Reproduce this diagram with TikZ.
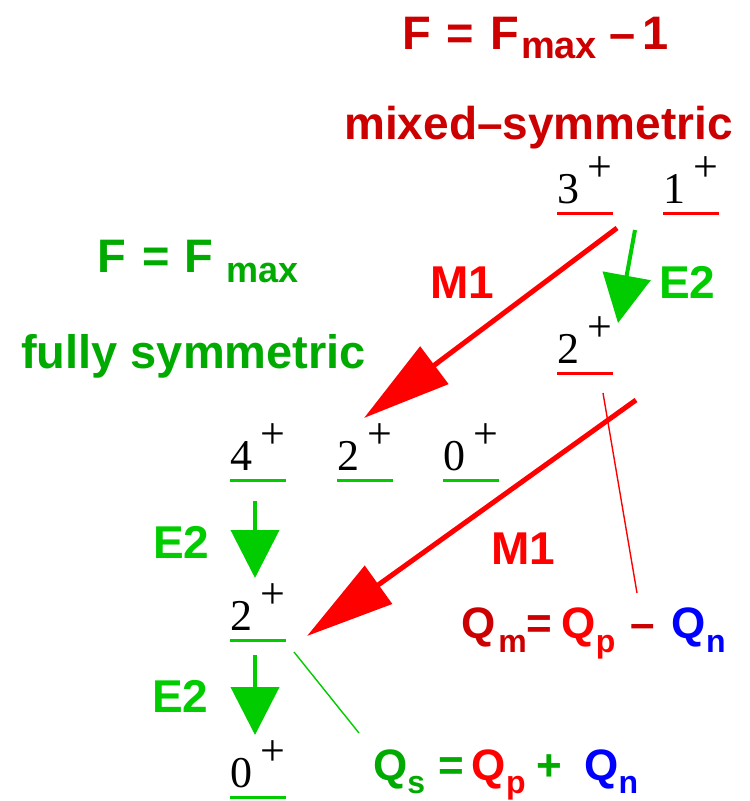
\documentclass[tikz,border=0pt]{standalone}
\usepackage{fontspec}
\setmainfont{Liberation Serif}
\newfontfamily\hv{Liberation Sans}
\usetikzlibrary{arrows.meta}
\definecolor{dred}{RGB}{204,0,0}
\definecolor{bred}{RGB}{255,0,0}
\definecolor{bgreen}{RGB}{0,204,0}
\definecolor{tgreen}{RGB}{0,170,0}
\definecolor{qblue}{RGB}{0,0,255}
\newcommand{\subtxt}[2]{\raisebox{-#1pt}{\fontsize{32}{32}\selectfont #2}}
\newcommand{\maxtxt}[2]{\raisebox{-#1pt}{\fontsize{#2}{#2}\selectfont max}}
\newcommand{\lv}[1]{#1\hspace{8pt}\raisebox{22pt}{+}}
\begin{document}
\begin{tikzpicture}[x=1pt,y=-1pt,
  hb/.style={font=\hv\bfseries\fontsize{47}{47}\selectfont, inner sep=0pt, anchor=base west},
  lb/.style={font=\hv\bfseries\fontsize{46}{46}\selectfont, inner sep=0pt, anchor=base west},
  qb/.style={font=\hv\bfseries\fontsize{44}{44}\selectfont, inner sep=0pt, anchor=base west},
  lvl/.style={font=\fontsize{44}{44}\selectfont, inner sep=0pt, anchor=base west},
  uline/.style={draw=#1, line width=2.5pt},
  redarrow/.style={draw=bred, line width=5pt, -{Triangle[length=88pt,width=46pt]}},
  greenarrow/.style={draw=bgreen, line width=4pt, -{Triangle[length=48pt,width=48pt]}},
  thinline/.style={draw=#1, line width=1.4pt}
]
\useasboundingbox (0,0) rectangle (750,801);

% headings
\node[hb, text=dred] (hA) at (402,49)
  {F\hspace{16pt}=\hspace{16pt}F\hspace{2pt}\maxtxt{9}{38}\hspace{12pt}–\hspace{7pt}1};
\node[hb, text=dred, font=\hv\bfseries\fontsize{46}{46}\selectfont] (hB) at (344,139) {mixed–symmetric};
\node[hb, text=tgreen] (gA) at (97,272)
  {F\hspace{17pt}=\hspace{14pt}F\hspace{13pt}\maxtxt{10}{36}};
\node[hb, text=tgreen] (gB) at (21,368) {fully symmetric};

% levels
\node[lvl] (m3) at (557,203) {\lv{3}};
\node[lvl] (m1) at (663,203) {\lv{1}};
\node[lvl] (m2) at (557,363) {\lv{2}};
\node[lvl] (s4) at (230,470) {\lv{4}};
\node[lvl] (s2) at (337,470) {\lv{2}};
\node[lvl] (s0) at (443,470) {\lv{0}};
\node[lvl] (t2) at (230,630) {\lv{2}};
\node[lvl] (t0) at (230,787) {\lv{0}};

\foreach \n in {m3,m1,m2}
  \draw[uline=bred] ([yshift=-10.5pt]\n.base west) -- +(56,0);
\foreach \n in {s4,s2,s0,t2,t0}
  \draw[uline=bgreen] ([yshift=-10.5pt]\n.base west) -- +(56,0);

% transition labels
\node[lb, text=bred] (mA) at (430,298) {M1};
\node[lb, text=bgreen] (eA) at (659,298) {E2};
\node[lb, text=bred] (mB) at (491,564) {M1};
\node[lb, text=bgreen] (eB) at (153,558) {E2};
\node[lb, text=bgreen] (eC) at (152,712) {E2};

% quadrupole formulas
\node[qb] (qm) at (461,638)
  {\textcolor{dred}{Q\hspace{3pt}\subtxt{14}{m}=}\hspace{9pt}\textcolor{bred}{Q\subtxt{14}{p}}\hspace{15pt}\textcolor{dred}{–}\hspace{17pt}\textcolor{qblue}{Q\subtxt{14}{n}}};
\node[qb] (qs) at (373,780)
  {\textcolor{tgreen}{Q\subtxt{13}{s}}\hspace{13pt}\textcolor{tgreen}{=}\hspace{8pt}\textcolor{bred}{Q\subtxt{13}{p}}\hspace{11pt}\textcolor{tgreen}{+}\hspace{22pt}\textcolor{qblue}{Q\subtxt{13}{n}}};

% arrow end points
\coordinate (a1s) at (617,228);
\coordinate (a1e) at (364,418);
\coordinate (a2s) at (636,400);
\coordinate (a2e) at (307,636);
\coordinate (a3s) at (635,230);
\coordinate (a3e) at (618,323);
\coordinate (a4s) at (255,501);
\coordinate (a4e) at (255,578);
\coordinate (a5s) at (255,655);
\coordinate (a5e) at (255,735);
\coordinate (r1s) at (603,393);
\coordinate (r1e) at (637,593);
\coordinate (g1s) at (294,652);
\coordinate (g1e) at (359,733);

\draw[redarrow] (a1s) -- (a1e);
\draw[redarrow] (a2s) -- (a2e);
\draw[greenarrow] (a3s) -- (a3e);
\draw[greenarrow] (a4s) -- (a4e);
\draw[greenarrow] (a5s) -- (a5e);
\draw[thinline=bred] (r1s) -- (r1e);
\draw[thinline=bgreen] (g1s) -- (g1e);
\end{tikzpicture}
\end{document}
